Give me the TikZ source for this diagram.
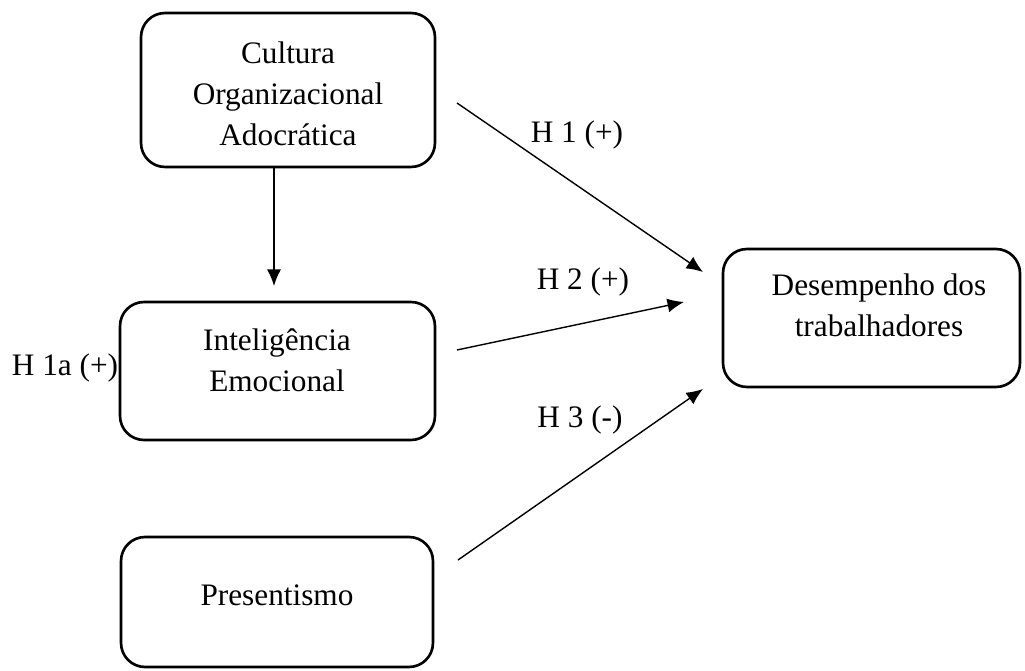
\documentclass[tikz,border=0pt]{standalone}
\usepackage{fontspec}
\setmainfont{Liberation Serif}
\usetikzlibrary{arrows.meta}

\begin{document}
\begin{tikzpicture}[x=0.02cm,y=-0.02cm,>={Latex[length=0.33cm,width=0.28cm]},
		caixa/.style={draw,line width=1.5pt,rounded corners=0.48cm},
		texto/.style={align=center,font=\fontsize{17.8pt}{23.3pt}\selectfont},
		seta/.style={->,line width=0.8pt}]
		\useasboundingbox (0,0) rectangle (1025,671);
		
		\node[caixa,minimum width=5.88cm,minimum height=3.08cm] (cultura) at (288,90) {};
		\node[caixa,minimum width=6.3cm,minimum height=2.76cm] (inteligencia) at (277.5,371) {};
		\node[caixa,minimum width=6.24cm,minimum height=2.6cm] (presentismo) at (277,602) {};
		\node[caixa,minimum width=5.94cm,minimum height=2.76cm] (desempenho) at (871.5,318) {};
		
		\node[texto] (cultura-txt) at (288,94) {Cultura\\Organizacional\\Adocrática};
		\node[texto] (inteligencia-txt) at (277,360) {Inteligência\\Emocional};
		\node[texto] (presentismo-txt) at (277,595) {Presentismo};
		\node[texto] (desempenho-txt) at (879,305) {Desempenho dos\\trabalhadores};
		
		\coordinate (v-ini) at (274,167);
		\coordinate (v-fim) at (274,286);
		\coordinate (h1-ini) at (457,103);
		\coordinate (h1-fim) at (703,272);
		\coordinate (h2-ini) at (457,350);
		\coordinate (h2-fim) at (684,302);
		\coordinate (h3-ini) at (458,560);
		\coordinate (h3-fim) at (703,389);
		
		\draw[seta] (v-ini) -- (v-fim);
		\draw[seta] (h1-ini) -- (h1-fim);
		\draw[seta] (h2-ini) -- (h2-fim);
		\draw[seta] (h3-ini) -- (h3-fim);
		
		\node[texto] (h1) at (577,135) {H 1 (+)};
		\node[texto] (h2) at (583,282) {H 2 (+)};
		\node[texto] (h3) at (580,420) {H 3 (-)};
		\node[texto] (h1a) at (65,368) {H 1a (+)};
	\end{tikzpicture}
\end{document}
